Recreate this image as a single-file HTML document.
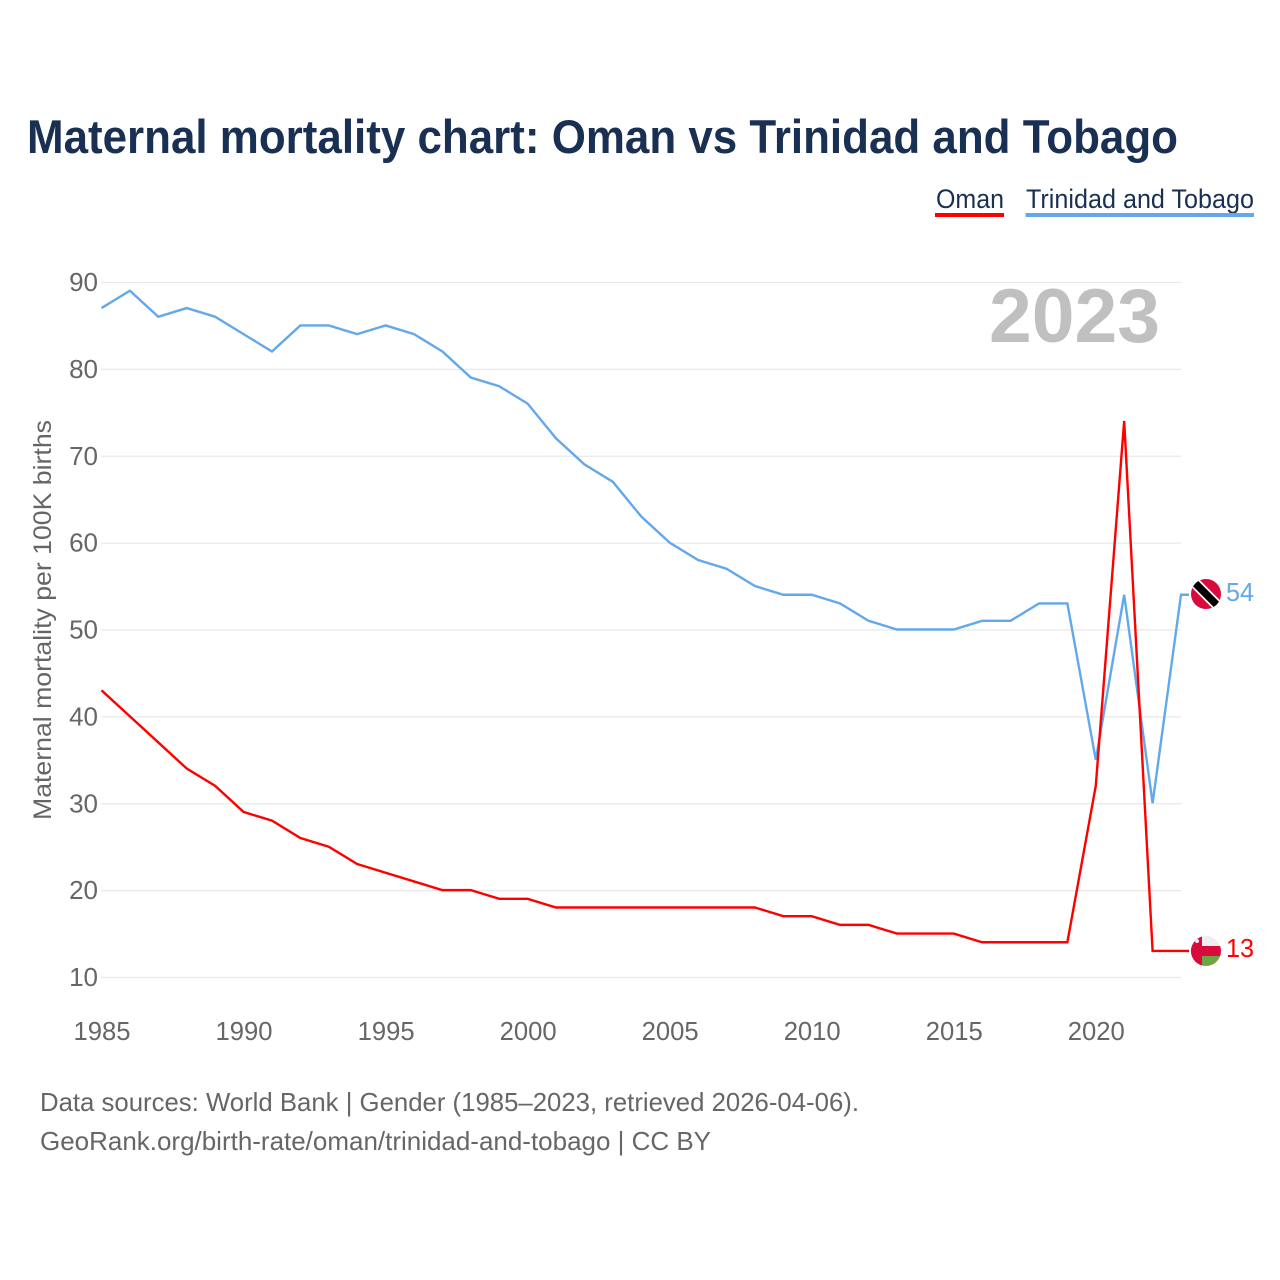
<!DOCTYPE html>
<html>
<head>
<meta charset="utf-8">
<title>Maternal mortality chart: Oman vs Trinidad and Tobago</title>
<style>
html,body{margin:0;padding:0;background:#fff;width:1280px;height:1280px;overflow:hidden}
svg{display:block}
text{font-family:"Liberation Sans",sans-serif}
</style>
</head>
<body>
<svg id="chart" xmlns="http://www.w3.org/2000/svg" width="1280" height="1280" viewBox="0 0 1280 1280">
  <defs>
    <clipPath id="flag-tt-clip"><circle cx="1206" cy="594" r="15"/></clipPath>
    <clipPath id="flag-om-clip"><circle cx="1206" cy="951" r="15"/></clipPath>
  </defs>
  <rect width="1280" height="1280" fill="#fff"/>
  <text x="27" y="153" font-size="47" font-weight="700" fill="#1a3052" textLength="1151" lengthAdjust="spacingAndGlyphs">Maternal mortality chart: Oman vs Trinidad and Tobago</text>

  <g>
    <g>
      <text x="936" y="208" font-size="27" fill="#1a3052" textLength="68" lengthAdjust="spacingAndGlyphs">Oman</text>
      <rect x="935" y="213" width="69" height="4" fill="#ff0000"/>
    </g>
    <g>
      <text x="1026" y="208" font-size="27" fill="#1a3052" textLength="228" lengthAdjust="spacingAndGlyphs">Trinidad and Tobago</text>
      <rect x="1025.500" y="213" width="228.500" height="4" fill="#62a8ea"/>
    </g>
  </g>

  <g id="grid"></g>
  <text x="1160" y="342" font-size="76" font-weight="700" fill="#c0c0c0" text-anchor="end" textLength="171" lengthAdjust="spacingAndGlyphs">2023</text>
  <g id="y-ticks"></g>
  <g id="x-ticks"></g>
  <text transform="translate(51,620) rotate(-90)" font-size="25" fill="#666" text-anchor="middle" textLength="400" lengthAdjust="spacingAndGlyphs">Maternal mortality per 100K births</text>

  <g id="series"></g>

  <g clip-path="url(#flag-tt-clip)">
    <rect x="1190" y="578" width="32" height="32" fill="#da0a3c"/>
    <line x1="1190" y1="578" x2="1222" y2="610" stroke="#fff" stroke-width="11"/>
    <line x1="1190" y1="578" x2="1222" y2="610" stroke="#000" stroke-width="7.500"/>
  </g>
  <g clip-path="url(#flag-om-clip)">
    <rect x="1190" y="935" width="32" height="11" fill="#eeeeee"/>
    <rect x="1190" y="946" width="32" height="10" fill="#da0a3c"/>
    <rect x="1190" y="956" width="32" height="11" fill="#6da544"/>
    <rect x="1190" y="935" width="12" height="32" fill="#da0a3c"/>
    <circle cx="1197" cy="941" r="2" fill="#eeeeee"/>
  </g>

  <text x="1226" y="601" font-size="26" fill="#62a8ea" textLength="28" lengthAdjust="spacingAndGlyphs">54</text>
  <text x="1226" y="957" font-size="26" fill="#ff0000" textLength="28" lengthAdjust="spacingAndGlyphs">13</text>

  <text x="40" y="1111" font-size="26" fill="#666" textLength="819" lengthAdjust="spacingAndGlyphs">Data sources: World Bank | Gender (1985–2023, retrieved 2026-04-06).</text>
  <text x="40" y="1150" font-size="26" fill="#666" textLength="671" lengthAdjust="spacingAndGlyphs">GeoRank.org/birth-rate/oman/trinidad-and-tobago | CC BY</text>
</svg>
<script>
const startYear = 1985;
const omanValues = [43,40,37,34,32,29,28,26,25,23,22,21,20,20,19,19,18,18,18,18,18,18,18,18,17,17,16,16,15,15,15,14,14,14,14,32,74,13,13];
const trinidadValues = [87,89,86,87,86,84,82,85,85,84,85,84,82,79,78,76,72,69,67,63,60,58,57,55,54,54,53,51,50,50,50,51,51,53,53,35,54,30,54];
const yTickValues = [10,20,30,40,50,60,70,80,90];
const xTickLabels = [1985,1990,1995,2000,2005,2010,2015,2020];

const NS = 'http://www.w3.org/2000/svg';
const xScale = function (year) { return 101.5 + (year - 1985) * (1181 - 101.5) / 38; };
const yScale = function (value) { return 977.5 - (value - 10) * (977.5 - 282.5) / 80; };
const lineOffsetY = -0.5;

const grid = document.getElementById('grid');
const yTicks = document.getElementById('y-ticks');
const xTicks = document.getElementById('x-ticks');
const seriesGroup = document.getElementById('series');

yTickValues.forEach(function (v) {
  const line = document.createElementNS(NS, 'line');
  
  
  line.setAttribute('x1', 101);
  line.setAttribute('x2', 1181);
  line.setAttribute('y1', yScale(v));
  line.setAttribute('y2', yScale(v));
  line.setAttribute('stroke', '#e8e8e8');
  line.setAttribute('stroke-width', '1.2');
  grid.appendChild(line);

  const label = document.createElementNS(NS, 'text');
  
  
  label.setAttribute('x', 98);
  label.setAttribute('y', yScale(v) + 8.500);
  label.setAttribute('font-size', '26');
  label.setAttribute('fill', '#666');
  label.setAttribute('text-anchor', 'end');
  label.textContent = v;
  yTicks.appendChild(label);
});

xTickLabels.forEach(function (year) {
  const label = document.createElementNS(NS, 'text');
  
  
  label.setAttribute('x', xScale(year) + 0.5);
  label.setAttribute('y', 1040);
  label.setAttribute('font-size', '26');
  label.setAttribute('fill', '#666');
  label.setAttribute('text-anchor', 'middle');
  label.setAttribute('textLength', '57');
  label.setAttribute('lengthAdjust', 'spacingAndGlyphs');
  label.textContent = year;
  xTicks.appendChild(label);
});

function buildPoints(values) {
  const pts = values.map(function (v, i) {
    return xScale(startYear + i).toFixed(2) + ',' + (yScale(v) + lineOffsetY).toFixed(2);
  });
  const last = values[values.length - 1];
  pts.push('1189,' + (yScale(last) + lineOffsetY).toFixed(2));
  return pts.join(' ');
}

const trinidadLine = document.createElementNS(NS, 'polyline');


trinidadLine.setAttribute('points', buildPoints(trinidadValues));
trinidadLine.setAttribute('fill', 'none');
trinidadLine.setAttribute('stroke', '#62a8ea');
trinidadLine.setAttribute('stroke-width', '2.4');
seriesGroup.appendChild(trinidadLine);

const omanLine = document.createElementNS(NS, 'polyline');


omanLine.setAttribute('points', buildPoints(omanValues));
omanLine.setAttribute('fill', 'none');
omanLine.setAttribute('stroke', '#ff0000');
omanLine.setAttribute('stroke-width', '2.4');
seriesGroup.appendChild(omanLine);
</script>
</body>
</html>
